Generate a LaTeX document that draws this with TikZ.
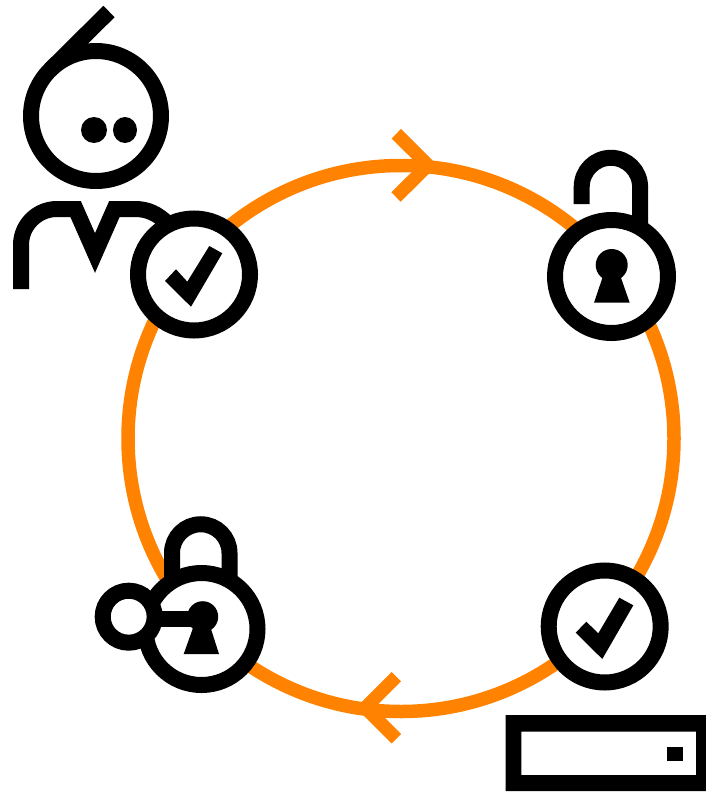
\documentclass[tikz,border=0pt]{standalone}
\begin{document}
\begin{tikzpicture}[x=1pt,y=-1pt,
  ink/.style={draw=black,line width=16pt},
  ring/.style={draw=black,line width=16pt,fill=white},
  solid ink/.style={fill=black,draw=none},
  loop/.style={draw=orangeloop,line width=13.5pt},
  tip/.style={draw=orangeloop,line width=13.3pt,line join=bevel}]
\definecolor{orangeloop}{HTML}{FF8300}
\useasboundingbox (0,0) rectangle (706,792);
% cycle
\draw[loop] (401,438.5) circle[radius=273];
\draw[tip] (396.3,133.7) -- (428,165.3) -- (396,197);
\draw[tip] (396.3,676.7) -- (365.3,707.7) -- (396.3,738.7);
% person
\draw[ink] (96,116) circle[radius=65];
\draw[ink] (109,11.5) -- (50,70);
\fill[solid ink] (94,130) circle[radius=13];
\fill[solid ink] (125,130) ellipse[x radius=12,y radius=13];
\draw[ink,miter limit=10] (21,289) -- (21,245) arc[start angle=180,end angle=270,radius=36] -- (75.6,209) -- (95,253) -- (114.4,209) -- (135,209) .. controls (148,209) and (158,214) .. (168,224);
% check top-left
\draw[ring] (194,274.5) circle[radius=56];
\fill[solid ink] (165,281) -- (176,269.3) -- (187.3,281.7) -- (209.3,246) -- (222.3,253.3) -- (191,306.7) -- cycle;
% open lock
\draw[ink] (581.7,204) -- (581.7,187) arc[start angle=180,end angle=360,radius=29.2] -- (640.1,232);
\draw[ring] (611.5,276.5) circle[radius=56.5];
\fill[solid ink] (611.7,265) circle[radius=16];
\fill[solid ink] (602.7,277) -- (620.7,277) -- (629.7,302.7) -- (594,302.7) -- cycle;
% closed lock with key
\draw[ink] (172,578) -- (172,553) arc[start angle=180,end angle=360,radius=28.75] -- (229.5,578);
\draw[ring] (201.5,629) circle[radius=56];
\draw[ring] (128.7,616.7) circle[radius=26];
\draw[ink] (154,618.5) -- (200,618.5);
\fill[solid ink] (202.7,616.7) circle[radius=15.5];
\fill[solid ink] (193,628) -- (210.7,628) -- (219,654) -- (183.7,654) -- cycle;
% check bottom-right
\draw[ring] (604.7,626.5) circle[radius=56];
\fill[solid ink] (575.7,632.7) -- (586.3,621.7) -- (598.3,633.3) -- (619.3,597.7) -- (633.3,605.3) -- (602.3,659) -- cycle;
% server
\fill[solid ink,even odd rule] (505.7,715) rectangle (706,791) (521.3,731.7) rectangle (696,775);
\fill[solid ink] (667.3,747) rectangle (682.7,761);
\end{tikzpicture}
\end{document}
